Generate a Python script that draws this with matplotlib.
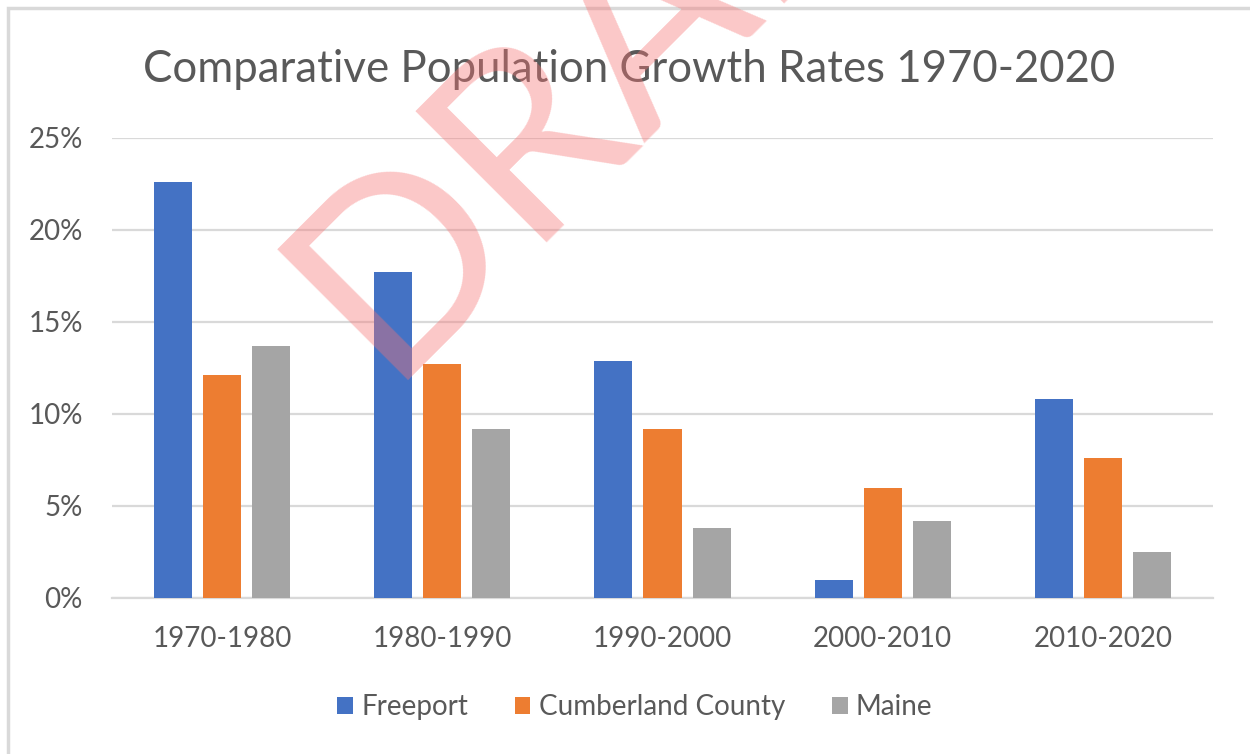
import numpy as np
import matplotlib.pyplot as plt
from matplotlib.patches import Rectangle

# data (percent growth per decade)
periods = ['1970-1980', '1980-1990', '1990-2000', '2000-2010', '2010-2020']
freeport = [22.6, 17.7, 12.9, 1.0, 10.8]
cumberland = [12.1, 12.7, 9.2, 6.0, 7.6]
maine = [13.7, 9.2, 3.8, 4.2, 2.5]
series_names = ['Freeport', 'Cumberland County', 'Maine']
colors = ['#4472C4', '#ED7D31', '#A5A5A5']
yticks = [0, 5, 10, 15, 20, 25]

plt.rcParams['font.family'] = ['Lato', 'DejaVu Sans']
txt = '#595959'
grid = '#D9D9D9'

fig = plt.figure(figsize=(12.5, 7.54), dpi=100)
ax = fig.add_axes([112/1250, 156/754, 1101/1250, 460/754])

x = np.arange(len(periods))
w = 0.173
step = 0.223
for k, (vals, name, c) in enumerate(zip([freeport, cumberland, maine], series_names, colors)):
    ax.bar(x + (k - 1)*step, vals, w, color=c, label=name, zorder=3)

ax.set_xlim(-0.5, 4.5)
ax.set_ylim(0, 25)
ax.set_yticks(yticks)
ax.set_yticklabels([f'{v}%' for v in yticks])
ax.set_xticks(x)
ax.set_xticklabels(periods)
ax.tick_params(length=0, colors=txt, labelsize=20)
ax.tick_params(axis='y', pad=21)
ax.tick_params(axis='x', pad=20)
ax.yaxis.grid(True, color=grid, lw=1.6, zorder=0)
for s in ['left', 'right', 'top']:
    ax.spines[s].set_visible(False)
ax.spines['bottom'].set_color(grid)
ax.spines['bottom'].set_linewidth(1.6)

fig.text(629/1250, (754-82)/754, 'Comparative Population Growth Rates 1970-2020',
         ha='center', va='baseline', fontsize=31.5, color=txt)

fig.legend(loc='center', bbox_to_anchor=(635/1250, (754-707)/754), ncol=3, frameon=False,
           fontsize=20, labelcolor=txt, handlelength=0.55, handleheight=0.55,
           handletextpad=0.3, columnspacing=1.7)

# chart border (only top and left edges are in the picture)
fig.add_artist(Rectangle((8/1250, -0.1), 1.2, 746/754 + 0.1, transform=fig.transFigure,
                         fill=False, edgecolor=grid, lw=2.5))

# watermark
fig.text(385/1250, (754-381)/754, 'DRAFT', rotation=45, rotation_mode='anchor',
         ha='left', va='baseline', fontsize=186, color=(247/255, 116/255, 116/255),
         alpha=0.4, zorder=10)

fig.savefig('out.png', dpi=100)
